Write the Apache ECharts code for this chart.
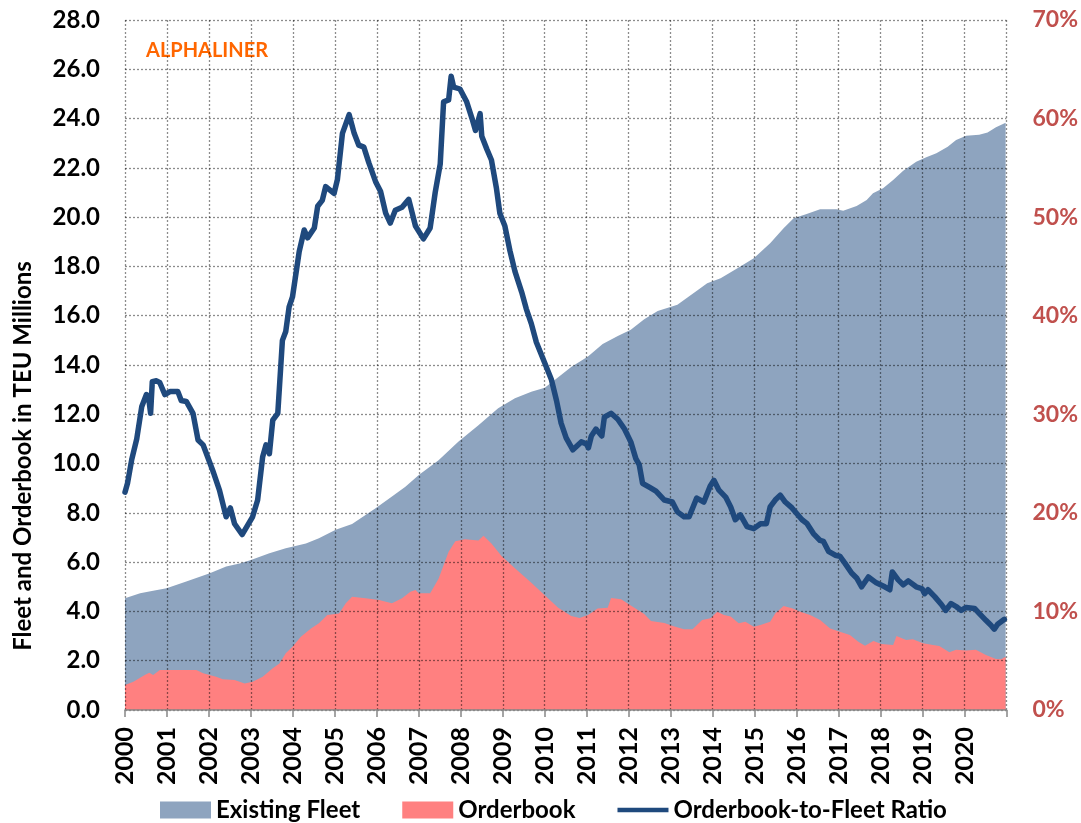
<!DOCTYPE html>
<html>
<head>
<meta charset="utf-8">
<script src="https://cdn.jsdelivr.net/npm/echarts@6/dist/echarts.min.js"></script>
<style>
html,body{margin:0;padding:0;background:#fff;}
#chart{width:1081px;height:823px;}
</style>
</head>
<body>
<div id="chart"></div>
<script>
// Existing fleet (TEU millions) as [year, value]
const fleetData = [
  [2000.00,4.53],[2000.36,4.74],[2000.67,4.84],[2000.99,4.94],[2001.46,5.21],[2002.02,5.55],
  [2002.41,5.82],[2002.73,5.95],[2003.00,6.09],[2003.44,6.36],[2003.83,6.56],[2004.31,6.76],
  [2004.62,6.97],[2005.02,7.31],[2005.41,7.55],[2005.97,8.19],[2006.36,8.66],[2006.68,9.06],
  [2007.00,9.54],[2007.47,10.13],[2007.94,10.89],[2008.42,11.56],[2008.89,12.24],[2009.29,12.65],
  [2009.68,12.91],[2010.00,13.08],[2010.32,13.50],[2010.63,13.92],[2011.03,14.34],[2011.38,14.85],
  [2011.74,15.18],[2012.05,15.43],[2012.37,15.86],[2012.69,16.19],[2013.16,16.45],[2013.64,17.03],
  [2013.87,17.32],[2014.19,17.52],[2014.59,17.93],[2014.98,18.33],[2015.37,18.94],[2015.69,19.55],
  [2015.93,19.96],[2016.24,20.13],[2016.56,20.32],[2016.95,20.32],[2017.11,20.26],[2017.43,20.45],
  [2017.67,20.70],[2017.82,20.97],[2018.06,21.17],[2018.30,21.51],[2018.54,21.88],[2018.85,22.25],
  [2019.09,22.43],[2019.33,22.59],[2019.60,22.86],[2019.80,23.13],[2020.04,23.30],[2020.35,23.34],
  [2020.55,23.43],[2020.75,23.65],[2020.98,23.83]
];
// Orderbook (TEU millions) as [year, value]
const orderbookData = [
  [2000.00,1.01],[2000.20,1.15],[2000.47,1.42],[2000.58,1.51],[2000.67,1.42],[2000.83,1.62],
  [2001.07,1.62],[2001.70,1.62],[2001.86,1.49],[2002.17,1.35],[2002.33,1.25],[2002.61,1.22],
  [2002.85,1.08],[2003.04,1.15],[2003.28,1.35],[2003.52,1.69],[2003.68,1.89],[2003.83,2.30],
  [2003.99,2.57],[2004.19,2.97],[2004.43,3.31],[2004.62,3.52],[2004.82,3.86],[2005.10,3.92],
  [2005.26,4.33],[2005.41,4.60],[2005.73,4.53],[2006.05,4.46],[2006.36,4.33],[2006.60,4.53],
  [2006.80,4.80],[2006.92,4.87],[2007.00,4.74],[2007.27,4.74],[2007.47,5.33],[2007.71,6.42],
  [2007.87,6.85],[2008.10,6.93],[2008.42,6.88],[2008.54,7.07],[2008.73,6.76],[2008.97,6.25],
  [2009.29,5.75],[2009.68,5.16],[2010.00,4.66],[2010.32,4.15],[2010.63,3.81],[2010.83,3.73],
  [2011.03,3.86],[2011.26,4.12],[2011.50,4.15],[2011.58,4.54],[2011.82,4.49],[2012.05,4.24],
  [2012.37,3.90],[2012.53,3.61],[2012.85,3.53],[2013.09,3.39],[2013.32,3.28],[2013.52,3.28],
  [2013.75,3.65],[2013.95,3.72],[2014.11,3.99],[2014.27,3.86],[2014.43,3.79],[2014.62,3.52],
  [2014.78,3.58],[2014.98,3.38],[2015.14,3.45],[2015.37,3.58],[2015.49,3.92],[2015.69,4.22],
  [2015.89,4.13],[2016.09,3.99],[2016.32,3.86],[2016.56,3.65],[2016.80,3.31],[2017.03,3.18],
  [2017.27,3.04],[2017.47,2.77],[2017.63,2.61],[2017.83,2.80],[2018.02,2.68],[2018.30,2.64],
  [2018.38,3.00],[2018.61,2.84],[2018.77,2.87],[2019.01,2.71],[2019.25,2.64],[2019.40,2.60],
  [2019.64,2.34],[2019.80,2.44],[2020.04,2.41],[2020.27,2.44],[2020.51,2.23],[2020.75,2.07],
  [2020.87,2.06],[2020.98,2.16]
];
// Orderbook-to-fleet ratio (%) as [year, value]
const ratioData = [
  [2000.00,22.1],[2000.06,23.0],[2000.16,25.4],[2000.28,27.5],[2000.40,30.8],[2000.51,32.0],
  [2000.56,31.8],[2000.61,30.1],[2000.65,33.3],[2000.75,33.4],[2000.83,33.2],[2000.95,32.0],
  [2001.07,32.3],[2001.26,32.3],[2001.34,31.4],[2001.46,31.3],[2001.62,30.1],[2001.74,27.4],
  [2001.86,26.9],[2002.09,24.3],[2002.25,22.3],[2002.41,19.6],[2002.51,20.5],[2002.61,18.9],
  [2002.79,17.8],[2003.04,19.6],[2003.16,21.3],[2003.28,25.7],[2003.36,26.9],[2003.44,26.0],
  [2003.52,29.4],[2003.64,30.1],[2003.75,37.5],[2003.83,38.4],[2003.91,40.9],[2003.99,41.9],
  [2004.15,46.5],[2004.27,48.7],[2004.35,47.9],[2004.51,48.9],[2004.59,51.1],[2004.70,51.7],
  [2004.78,53.1],[2004.98,52.4],[2005.06,53.8],[2005.18,58.5],[2005.34,60.4],[2005.46,58.5],
  [2005.57,57.3],[2005.69,57.1],[2005.81,55.5],[2005.97,53.6],[2006.09,52.6],[2006.21,50.4],
  [2006.32,49.4],[2006.44,50.7],[2006.60,51.0],[2006.76,51.8],[2006.92,49.1],[2007.11,47.8],
  [2007.27,48.9],[2007.39,52.5],[2007.51,55.4],[2007.59,61.7],[2007.71,61.9],[2007.77,64.3],
  [2007.83,63.2],[2007.98,63.0],[2008.14,61.7],[2008.26,60.1],[2008.35,58.8],[2008.46,60.5],
  [2008.50,58.2],[2008.62,56.9],[2008.73,55.8],[2008.85,52.9],[2008.93,50.4],[2009.05,49.1],
  [2009.17,46.6],[2009.29,44.5],[2009.45,42.4],[2009.56,40.7],[2009.68,39.2],[2009.80,37.3],
  [2010.00,35.2],[2010.16,33.5],[2010.28,31.4],[2010.39,29.1],[2010.51,27.6],[2010.67,26.4],
  [2010.87,27.2],[2010.99,27.0],[2011.04,26.6],[2011.11,27.8],[2011.22,28.5],[2011.36,27.8],
  [2011.42,29.7],[2011.58,30.1],[2011.74,29.5],[2011.90,28.5],[2012.05,27.2],[2012.17,25.5],
  [2012.25,24.9],[2012.33,23.0],[2012.49,22.6],[2012.65,22.2],[2012.85,21.3],[2013.04,21.1],
  [2013.16,20.1],[2013.32,19.6],[2013.44,19.6],[2013.62,21.5],[2013.79,21.1],[2013.94,22.7],
  [2014.03,23.3],[2014.15,22.3],[2014.31,21.6],[2014.43,20.6],[2014.54,19.3],[2014.66,19.8],
  [2014.82,18.6],[2014.98,18.4],[2015.14,18.9],[2015.28,18.9],[2015.37,20.6],[2015.49,21.3],
  [2015.61,21.8],[2015.73,21.1],[2015.89,20.5],[2016.13,19.3],[2016.25,18.9],[2016.40,17.9],
  [2016.56,17.2],[2016.64,17.1],[2016.76,16.1],[2016.92,15.7],[2017.03,15.6],[2017.15,14.9],
  [2017.31,13.9],[2017.43,13.4],[2017.55,12.5],[2017.71,13.5],[2017.90,12.9],[2018.10,12.5],
  [2018.22,12.2],[2018.28,14.0],[2018.42,13.2],[2018.54,12.7],[2018.66,13.1],[2018.85,12.5],
  [2018.99,12.3],[2019.05,11.8],[2019.13,12.2],[2019.29,11.5],[2019.45,10.7],[2019.55,10.1],
  [2019.68,10.8],[2019.80,10.5],[2019.92,10.1],[2020.04,10.4],[2020.24,10.3],[2020.35,9.8],
  [2020.51,9.1],[2020.63,8.6],[2020.71,8.2],[2020.79,8.7],[2020.95,9.2]
];
const seriesNames = ['Existing Fleet', 'Orderbook', 'Orderbook-to-Fleet Ratio'];
const axisTitle = 'Fleet and Orderbook in TEU Millions';
const watermark = 'ALPHALINER';

const FONT = 'Lato, "Open Sans", sans-serif';
const gridDot = { color: 'rgba(0,0,0,0.45)', width: 1.3, type: [2, 2] };

const chart = echarts.init(document.getElementById('chart'), null, { renderer: 'canvas' });
chart.setOption({
  animation: false,
  backgroundColor: '#ffffff',
  textStyle: { fontFamily: FONT },
  grid: { left: 125, right: 71, top: 20, bottom: 113, containLabel: false },
  legend: {
    top: 798,
    left: 160,
    padding: 0,
    itemWidth: 51,
    itemHeight: 17,
    itemGap: 42,
    symbolKeepAspect: true,
    textStyle: { fontFamily: FONT, fontWeight: 'bold', fontSize: 24, color: '#000' },
    data: [
      { name: seriesNames[0], icon: 'rect' },
      { name: seriesNames[1], icon: 'rect' },
      { name: seriesNames[2], icon: 'path://M0,0H56V5H0Z' }
    ]
  },
  graphic: [
    {
      type: 'text', x: 23, y: 456, rotation: Math.PI / 2,
      style: { text: axisTitle, x: 0, y: 0, align: 'center', verticalAlign: 'middle',
        font: 'bold 24px ' + FONT, fill: '#000' }
    },
    {
      type: 'text', x: 146, y: 51,
      style: { text: watermark, align: 'left', verticalAlign: 'middle',
        font: 'bold 20px ' + FONT, fill: '#FF6600' }
    }
  ],
  xAxis: {
    type: 'value', min: 2000, max: 2021, interval: 1, z: 3,
    axisLine: { show: true, lineStyle: { color: '#868686', width: 1.5 } },
    axisTick: { show: true, length: 7, lineStyle: { color: '#868686', width: 1.5 } },
    axisLabel: {
      rotate: 90, margin: 17, fontSize: 25, fontWeight: 'bold', color: '#000', fontFamily: FONT,
      formatter: v => (v < 2021 ? String(v) : '')
    },
    splitLine: { show: true, lineStyle: gridDot }
  },
  yAxis: [
    {
      type: 'value', min: 0, max: 28, interval: 2, z: 3,
      axisLine: { show: false }, axisTick: { show: false },
      axisLabel: { margin: 25, fontSize: 24, fontWeight: 'bold', color: '#000', fontFamily: FONT,
        formatter: v => v.toFixed(1) },
      splitLine: { show: true, lineStyle: gridDot }
    },
    {
      type: 'value', min: 0, max: 70, interval: 10, z: 3, position: 'right',
      axisLine: { show: false }, axisTick: { show: false },
      axisLabel: { margin: 26, fontSize: 23, fontWeight: 'bold', color: '#C0504D', fontFamily: FONT,
        formatter: v => v + '%' },
      splitLine: { show: false }
    }
  ],
  series: [
    {
      name: seriesNames[0], type: 'line', data: fleetData, yAxisIndex: 0,
      symbol: 'none', z: 1,
      itemStyle: { color: '#8EA4BF' },
      lineStyle: { width: 0, color: '#8EA4BF' },
      areaStyle: { color: '#8EA4BF', opacity: 1 }
    },
    {
      name: seriesNames[1], type: 'line', data: orderbookData, yAxisIndex: 0,
      symbol: 'none', z: 2,
      itemStyle: { color: '#FF8080' },
      lineStyle: { width: 0, color: '#FF8080' },
      areaStyle: { color: '#FF8080', opacity: 1 }
    },
    {
      name: seriesNames[2], type: 'line', data: ratioData, yAxisIndex: 1,
      symbol: 'none', z: 5,
      itemStyle: { color: '#1F497D' },
      lineStyle: { width: 5.5, color: '#1F497D', join: 'round', cap: 'round' }
    }
  ]
});
</script>
</body>
</html>
